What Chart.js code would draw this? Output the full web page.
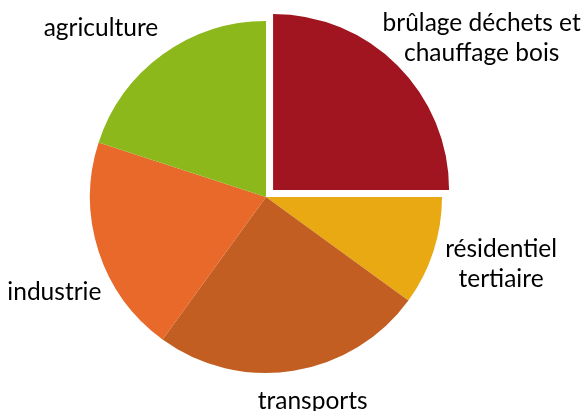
<!DOCTYPE html>
<html>
<head>
<meta charset="utf-8">
<script src="https://cdn.jsdelivr.net/npm/chart.js@4/dist/chart.umd.min.js"></script>
<style>
  html, body { margin: 0; padding: 0; background: #fff; }
</style>
</head>
<body>
<canvas id="pie" width="585" height="411"></canvas>
<script>
const categories = [
  ["brûlage déchets et", "chauffage bois"],
  ["résidentiel", "tertiaire"],
  ["transports"],
  ["industrie"],
  ["agriculture"]
];
const shares = [25, 10, 25, 20, 20];
const sliceColors = ["#A0151F", "#E8A912", "#C25E22", "#E8692A", "#8CB81C"];
const explode = [40, 0, 0, 0, 0];

// label nudges (px) after the geometric placement
const labelNudge = [[7, 1], [5, 0], [9, 6], [10, 33], [-22, -6]];

const labelFont = "24.5px Lato";
const lineH = 30;

const outsideLabels = {
  id: 'outsideLabels',
  afterDatasetsDraw(chart) {
    const ctx = chart.ctx;
    const meta = chart.getDatasetMeta(0);
    ctx.save();
    ctx.font = labelFont;
    ctx.fillStyle = '#000';
    ctx.textAlign = 'center';
    ctx.textBaseline = 'middle';
    meta.data.forEach((arc, i) => {
      const mid = (arc.startAngle + arc.endAngle) / 2;
      const dx = Math.cos(mid), dy = Math.sin(mid);
      const shift = (explode[i] || 0) / 4;
      const r = arc.outerRadius + 10;
      const lines = categories[i];
      const w = Math.max(...lines.map(t => ctx.measureText(t).width));
      const h = lines.length * lineH;
      const cx = arc.x + dx * (r + shift) + dx * w / 2 + labelNudge[i][0];
      const cy = arc.y + dy * (r + shift) + dy * h / 2 + labelNudge[i][1];
      lines.forEach((t, k) => {
        ctx.fillText(t, cx, cy - h / 2 + lineH * (k + 0.5));
      });
    });
    ctx.restore();
  }
};

new Chart(document.getElementById('pie'), {
  type: 'pie',
  data: {
    labels: categories.map(l => l.join(' ')),
    datasets: [{
      data: shares,
      backgroundColor: sliceColors,
      borderWidth: 0,
      offset: explode,
      hoverOffset: 0,
      radius: 176
    }]
  },
  options: {
    responsive: false,
    animation: false,
    layout: { padding: { left: 0, right: 53, top: 0, bottom: 17 } },
    plugins: { legend: { display: false }, tooltip: { enabled: false } }
  },
  plugins: [outsideLabels]
});
</script>
</body>
</html>
